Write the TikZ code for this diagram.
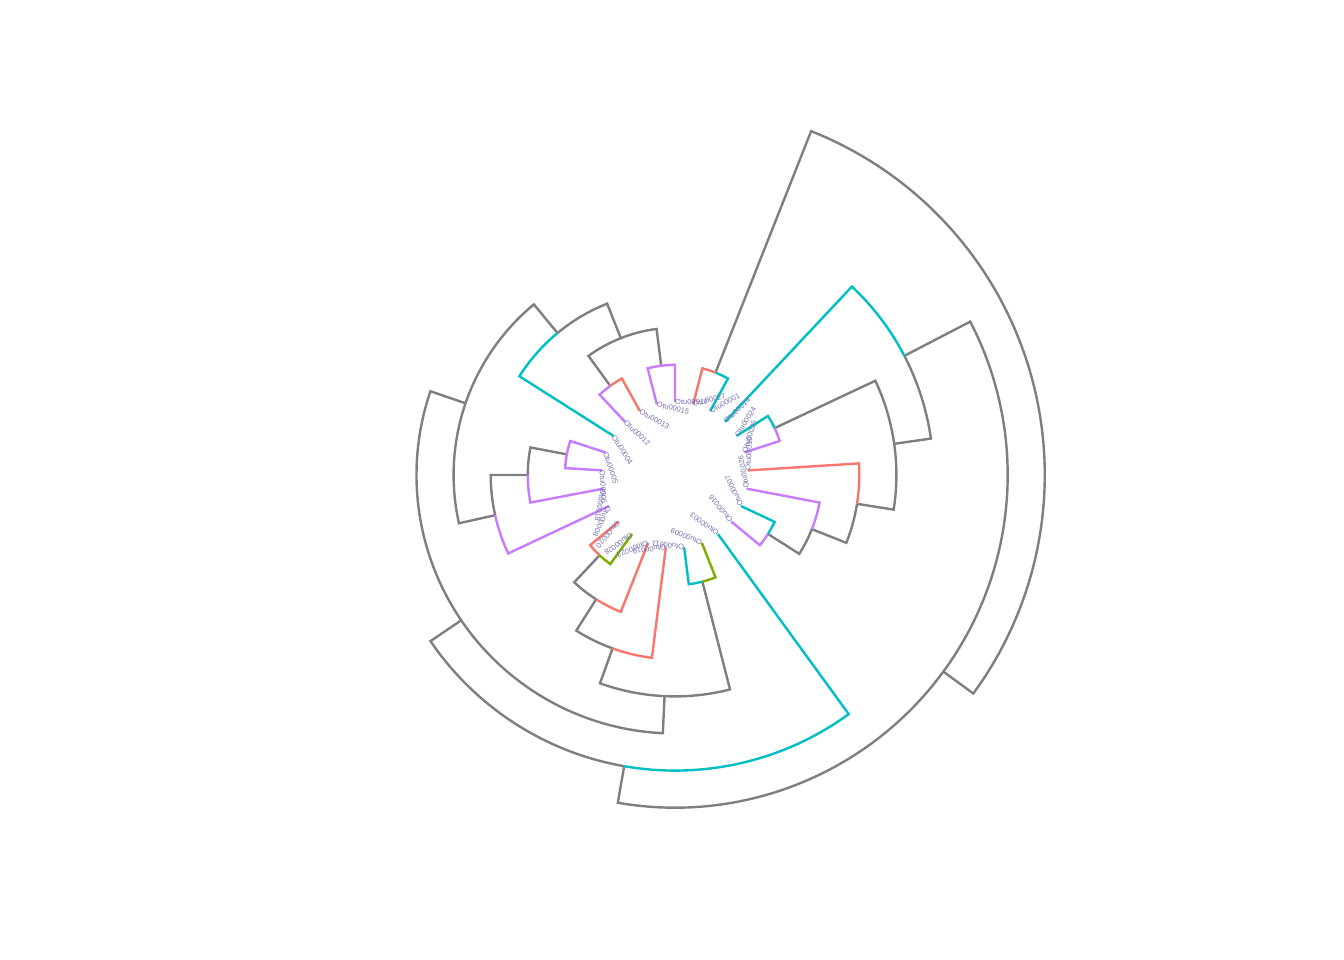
\documentclass[tikz,border=0pt]{standalone}
\usepackage{fontspec}
\setmainfont{Liberation Sans}
\usepackage{tikz}
\definecolor{cGrey}{RGB}{127,127,127}
\definecolor{cRed}{HTML}{F8766D}
\definecolor{cGreen}{HTML}{7CAE00}
\definecolor{cCyan}{HTML}{00BFC4}
\definecolor{cPurple}{HTML}{C77CFF}
\definecolor{cLabel}{HTML}{7570B3}
\tikzset{
	edgeG/.style ={line width=2.4pt, draw=cGrey},
	edgeR/.style ={edgeG, draw=cRed},
	edgeY/.style ={edgeG, draw=cGreen},
	edgeC/.style ={edgeG, draw=cCyan},
	edgeP/.style ={edgeG, draw=cPurple},
	tiplab/.style={anchor=west, inner sep=0pt, text=cLabel, font=\fontsize{7.5}{8}\selectfont},
}

\begin{document}
\begin{tikzpicture}[x=1pt, y=1pt]
	\useasboundingbox (-675,-485) rectangle (669,475);
	% inner nodes: name / depth / slot
	\foreach \n/\l/\k in {R/8/19.8671875, B/7/16.234375, G/6/11.8125, H/5/8.625, C/5/20.65625,
			I/4/4.9375, J/4/12.3125, D/4/19.3125, K/3/2.75, O/3/7.125, S/3/11.125, F/3/18.125,
			L/2/1.5, P/2/6.25, T/2/10.25, W/2/17.25, N/1/0.5, M/1/2.5, Q/1/5.5, U/1/9.5,
			V/1/13.5, X/1/16.5, E/1/20.5, A/1/23.5}{
		\expandafter\xdef\csname nk\n\endcsname{\k}
		\expandafter\xdef\csname nl\n\endcsname{\l}
		\coordinate (\n) at ({90+14.4*\k}:{73+37.1*\l});
	}
	% tips
	\foreach \k in {0,...,24}{
		\expandafter\xdef\csname nkt\k\endcsname{\k}
		\expandafter\xdef\csname nlt\k\endcsname{0}
		\coordinate (t\k) at ({90+14.4*\k}:73);
	}
	% branches
	\foreach \p/\c/\sty in {R/B/edgeG, R/A/edgeG, B/G/edgeG, B/C/edgeG, G/H/edgeG, H/I/edgeG,
			H/J/edgeG, I/K/edgeG, I/O/edgeG, K/L/edgeG, L/M/edgeG, L/N/edgeG, O/P/edgeG, P/Q/edgeG,
			J/S/edgeG, J/V/edgeG, S/T/edgeG, T/U/edgeG, C/D/edgeG, D/F/edgeG, D/E/edgeG, F/W/edgeG,
			W/X/edgeG,
			G/t15/edgeC, K/t4/edgeC, M/t2/edgeR, M/t3/edgeP, N/t0/edgeP, N/t1/edgeP, O/t8/edgeP,
			P/t7/edgeP, Q/t5/edgeP, Q/t6/edgeP, S/t12/edgeR, T/t11/edgeR, U/t9/edgeR, U/t10/edgeY,
			V/t13/edgeC, V/t14/edgeY, C/t22/edgeC, F/t19/edgeR, W/t18/edgeP, X/t16/edgeP,
			X/t17/edgeC, E/t20/edgeP, E/t21/edgeC, A/t23/edgeC, A/t24/edgeR}{
		\edef\kP{\csname nk\p\endcsname}\edef\kC{\csname nk\c\endcsname}\edef\lP{\csname nl\p\endcsname}
		\pgfmathsetmacro\angP{90+14.4*\kP}
		\pgfmathsetmacro\angC{90+14.4*\kC}
		\pgfmathsetmacro\radP{73+37.1*\lP}
		\draw[\sty] (\p) arc[start angle=\angP, end angle=\angC, radius=\radP pt] -- (\c);
	}
	% tip labels
	\foreach \k/\txt in {0/Otu00017, 1/Otu00015, 2/Otu00013, 3/Otu00012, 4/Otu00004, 5/Otu00005,
			6/Otu00006, 7/Otu00018, 8/Otu00008, 9/Otu00020, 10/Otu00028, 11/Otu00022, 12/Otu00019,
			13/Otu00011, 14/Otu00009, 15/Otu00003, 16/Otu00016, 17/Otu00007, 18/Otu00026,
			19/Otu00010, 20/Otu00025, 21/Otu00024, 22/Otu00014, 23/Otu00001, 24/Otu00027}{
		\node[tiplab, rotate={-14.4*\k}] (lab\k) at (t\k) {\txt};
	}
\end{tikzpicture}
\end{document}
